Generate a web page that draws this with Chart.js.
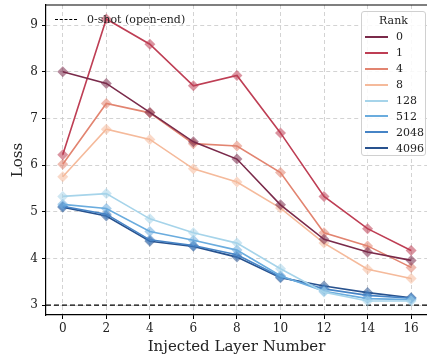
<!DOCTYPE html>
<html>
<head>
<meta charset="utf-8">
<script src="https://cdn.jsdelivr.net/npm/chart.js@4.4.0/dist/chart.umd.min.js"></script>
<style>
    body { margin: 0; background: #fff; overflow: hidden; }
    #wrap { position: relative; width: 427px; height: 356px; overflow: hidden; font-family: 'DejaVu Serif', serif; color: #222; }
    #chart { position: absolute; left: 0; top: 0; }
    .leg-shot { position: absolute; left: 55px; top: 13px; font-size: 11px; display: flex; align-items: center; }
    .leg-shot .swatch { width: 22px; border-top: 1.3px dashed #000; margin-right: 10px; }
    .leg-rank { position: absolute; left: 361px; top: 11px; width: 65px; height: 145px; box-sizing: border-box;
                border: 1px solid #d0d0d0; border-radius: 3px; background: rgba(255,255,255,0.85); font-size: 11px; }
    .leg-rank .title { text-align: center; margin-top: 1px; height: 16px; line-height: 16px; }
    .leg-rank .row { display: flex; align-items: center; height: 15.9px; padding-left: 3px; }
    .leg-rank .swatch { width: 23px; height: 0; border-top: 2px solid; margin-right: 8px; }
</style>
</head>
<body>
<div id="wrap">
    <canvas id="chart" width="427" height="356"></canvas>
    <div class="leg-shot"><span class="swatch"></span><span>0-shot (open-end)</span></div>
    <div class="leg-rank" id="legRank"><div class="title">Rank</div></div>
</div>
<script>
// ========================================
// DADOS
// ========================================
const LAYERS = [0, 2, 4, 6, 8, 10, 12, 14, 16];
const RANKS = ['0', '1', '4', '8', '128', '512', '2048', '4096'];
const Y_TICKS = [3, 4, 5, 6, 7, 8, 9];
const ZERO_SHOT = 3.0;

const loss_r0    = [8.00, 7.75, 7.13, 6.50, 6.13, 5.15, 4.41, 4.14, 3.96];
const loss_r1    = [6.22, 9.13, 8.59, 7.70, 7.92, 6.69, 5.33, 4.64, 4.17];
const loss_r4    = [6.02, 7.32, 7.12, 6.46, 6.41, 5.84, 4.55, 4.27, 3.81];
const loss_r8    = [5.75, 6.77, 6.55, 5.92, 5.64, 5.08, 4.33, 3.77, 3.57];
const loss_r128  = [5.33, 5.39, 4.85, 4.55, 4.33, 3.78, 3.28, 3.09, 3.09];
const loss_r512  = [5.16, 5.07, 4.58, 4.39, 4.18, 3.63, 3.30, 3.14, 3.12];
const loss_r2048 = [5.12, 4.95, 4.40, 4.28, 4.08, 3.61, 3.35, 3.21, 3.15];
const loss_r4096 = [5.10, 4.91, 4.37, 4.26, 4.03, 3.59, 3.41, 3.27, 3.16];

const SERIES = [loss_r0, loss_r1, loss_r4, loss_r8, loss_r128, loss_r512, loss_r2048, loss_r4096];
const COLORS = [
    [122, 42, 74],
    [190, 62, 84],
    [226, 132, 112],
    [245, 186, 155],
    [166, 212, 234],
    [106, 172, 222],
    [70, 132, 198],
    [40, 82, 142]
];

// limites dos eixos (o quadro é cortado à direita, como no original)
const X_MIN = -0.77, X_MAX = 16.73;
const Y_MIN = 2.79, Y_MAX = 9.43;

// ========================================
// GRÁFICO
// ========================================
const rgb = (c, a) => `rgba(${c[0]},${c[1]},${c[2]},${a})`;

const datasets = SERIES.map((vals, i) => ({
    label: RANKS[i],
    data: vals.map((v, j) => ({ x: LAYERS[j], y: v })),
    borderColor: rgb(COLORS[i], 1),
    backgroundColor: rgb(COLORS[i], 0.55),
    borderWidth: 1.6,
    pointStyle: 'rectRot',
    pointRadius: 5.5,
    pointBorderWidth: 0,
    pointBackgroundColor: rgb(COLORS[i], 0.55)
}));

datasets.push({
    label: '0-shot (open-end)',
    data: [{ x: X_MIN, y: ZERO_SHOT }, { x: X_MAX, y: ZERO_SHOT }],
    borderColor: '#000',
    borderWidth: 1.3,
    borderDash: [5, 3],
    pointRadius: 0
});

// linha superior do quadro
const topSpine = {
    id: 'topSpine',
    afterDraw(chart) {
        const { ctx, chartArea } = chart;
        ctx.save();
        ctx.strokeStyle = '#000';
        ctx.lineWidth = 1.2;
        ctx.beginPath();
        ctx.moveTo(chartArea.left, chartArea.top);
        ctx.lineTo(chartArea.right, chartArea.top);
        ctx.stroke();
        ctx.restore();
    }
};

const serif = "'DejaVu Serif', serif";
const gridColor = list => ctx => (ctx.tick && list.includes(ctx.tick.value)) ? '#c8c8c8' : 'rgba(0,0,0,0)';

new Chart(document.getElementById('chart'), {
    type: 'line',
    data: { datasets },
    plugins: [topSpine],
    options: {
        responsive: false,
        animation: false,
        devicePixelRatio: 1,
        layout: { autoPadding: false, padding: { top: 5, right: -4, left: 0, bottom: 0 } },
        plugins: { legend: { display: false }, tooltip: { enabled: false } },
        scales: {
            x: {
                type: 'linear',
                min: X_MIN,
                max: X_MAX,
                afterBuildTicks: s => { s.ticks = LAYERS.map(v => ({ value: v })); },
                afterFit: s => { s.height = 41; s.paddingLeft = 0; s.paddingRight = 0; },
                ticks: { color: '#222', font: { family: serif, size: 12 }, padding: 3, maxRotation: 0 },
                grid: { color: gridColor(LAYERS), lineWidth: 0.8, tickColor: '#000', tickLength: 4, tickWidth: 1 },
                border: { color: '#000', width: 1.2, dash: [4, 3] },
                title: { display: true, text: 'Injected Layer Number', color: '#222',
                         font: { family: serif, size: 15 }, padding: { top: 2, bottom: 0 } }
            },
            y: {
                min: Y_MIN,
                max: Y_MAX,
                afterBuildTicks: s => { s.ticks = Y_TICKS.map(v => ({ value: v })); },
                afterFit: s => { s.width = 46; s.paddingTop = 0; s.paddingBottom = 0; },
                ticks: { color: '#222', font: { family: serif, size: 12 }, padding: 4 },
                grid: { color: gridColor(Y_TICKS), lineWidth: 0.8, tickColor: '#000', tickLength: 4, tickWidth: 1 },
                border: { color: '#000', width: 1.2, dash: [4, 3] },
                title: { display: true, text: 'Loss', color: '#222',
                         font: { family: serif, size: 15 }, padding: { top: 9, bottom: 0 } }
            }
        }
    }
});

// ========================================
// LEGENDA
// ========================================
const legRank = document.getElementById('legRank');
RANKS.forEach((r, i) => {
    const row = document.createElement('div');
    row.className = 'row';
    row.innerHTML = `<span class="swatch" style="border-color:${rgb(COLORS[i], 1)}"></span><span>${r}</span>`;
    legRank.appendChild(row);
});
</script>
</body>
</html>
